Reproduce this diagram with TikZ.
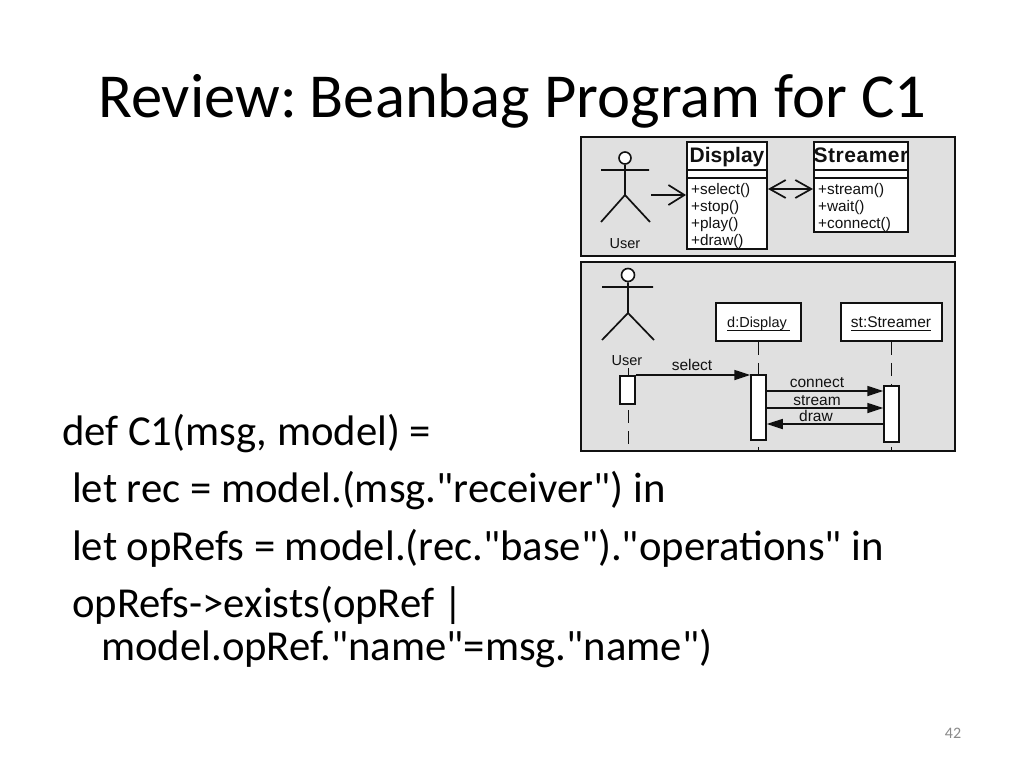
\documentclass[tikz,border=0pt]{standalone}
\usepackage{fontspec}
\newfontfamily\slidefont{Carlito}
\newfontfamily\umlfont{Liberation Sans}
\newfontfamily\umlspaced[LetterSpace=2.5]{Liberation Sans}
\usetikzlibrary{arrows.meta}
\definecolor{panelgray}{HTML}{E0E0E0}
\definecolor{numgray}{HTML}{8A8A8A}
\definecolor{inkblack}{HTML}{111111}
\tikzset{
  slidetext/.style={anchor=base west,inner sep=0pt,font=\slidefont\fontsize{42.7}{42.7}\selectfont,text=black},
  panel/.style={draw=inkblack,line width=1.8pt,fill=panelgray,minimum width=374pt,inner sep=0pt},
  classbox/.style={draw=inkblack,line width=1.7pt,fill=white,inner sep=0pt},
  member/.style={anchor=base west,inner sep=0pt,font=\umlfont\fontsize{15.3}{15.3}\selectfont,text=inkblack},
  uml/.style={anchor=base,inner sep=0pt,font=\umlfont\fontsize{15.5}{15.5}\selectfont,text=inkblack},
  umlsmall/.style={anchor=base,inner sep=0pt,font=\umlfont\fontsize{14.5}{14.5}\selectfont,text=inkblack},
  classname/.style={anchor=base,inner sep=0pt,text=inkblack},
  umlline/.style={draw=inkblack,line width=1.7pt},
  lifeline/.style={draw=inkblack,line width=1pt,dash pattern=on 13pt off 8pt},
  activation/.style={draw=inkblack,line width=1.5pt,fill=white,minimum width=15pt,inner sep=0pt},
  openhead/.style={umlline,-{Straight Barb[length=16pt,width=20pt,line width=1.7pt]}},
  openboth/.style={umlline,{Straight Barb[length=16pt,width=18pt,line width=1.7pt]}-{Straight Barb[length=16pt,width=18pt,line width=1.7pt]}},
  filledhead/.style={umlline,-{Triangle[length=16pt,width=10pt]}},
  objbox/.style={draw=inkblack,line width=1.5pt,fill=white,minimum height=38pt,inner sep=0pt},
}
\begin{document}
\begin{tikzpicture}[x=1pt,y=-1pt]
\useasboundingbox (0,0) rectangle (1024,768);
\fill[white] (0,0) rectangle (1024,768);

% slide text
\node[anchor=base west,inner sep=0pt,font=\slidefont\fontsize{62.6}{62.6}\selectfont] (title) at (98,117) {Review:\kern-6pt{} Beanbag Program for C1};
\node[slidetext] (l1) at (62,445) {def C1(msg, model) =};
\node[slidetext] (l2) at (72,502) {let rec = model.(msg."receiver") in};
\node[slidetext] (l3) at (72,560) {let opRefs = model.(rec."base")."operations" in};
\node[slidetext] (l4) at (72,617) {opRefs->exists(opRef |};
\node[slidetext] (l5) at (101,660) {model.opRef."name"=msg."name")};
\node[anchor=center,inner sep=0pt,text=numgray,font=\slidefont\fontsize{16}{16}\selectfont] (num) at (953,733) {42};

% class diagram panel
\node[panel,minimum height=119pt] (p1) at (768,196.5) {};
\node[classbox,minimum width=80pt,minimum height=107pt] (display) at (727,195.5) {};
\node[classbox,minimum width=94pt,minimum height=90pt] (streamer) at (861,187) {};
\draw[umlline] (687,170) -- (767,170) (687,178) -- (767,178);
\draw[umlline] (814,170) -- (908,170) (814,178) -- (908,178);
\node[classname,font=\umlfont\bfseries\fontsize{21}{21}\selectfont] (dname) at (727,162) {Display};
\node[classname,font=\umlspaced\bfseries\fontsize{21}{21}\selectfont] (sname) at (861,162) {Streamer};
\node[member] (m1) at (691,194) {+select()};
\node[member] (m2) at (691,211) {+stop()};
\node[member] (m3) at (691,228) {+play()};
\node[member] (m4) at (691,245) {+draw()};
\node[member] (s1) at (818,194) {+stream()};
\node[member] (s2) at (818,211) {+wait()};
\node[member] (s3) at (818,228) {+connect()};
% actor 1
\node[circle,draw=inkblack,line width=1.6pt,fill=white,minimum size=12pt,inner sep=0pt] (h1) at (625,158) {};
\coordinate (hip1) at (625,195);
\coordinate (arml1) at (601,170);
\coordinate (armr1) at (649,170);
\coordinate (legl1) at (601,222);
\coordinate (legr1) at (650,222);
\draw[umlline] (h1.south) -- (hip1) (arml1) -- (armr1) (legl1) -- (hip1) -- (legr1);
\node[umlsmall] (u1) at (625,248) {User};
\coordinate (astart) at (651,195);
\coordinate (aend) at (686,195);
\draw[openhead] (astart) -- (aend);
\coordinate (bstart) at (768,189);
\coordinate (bend) at (813,189);
\draw[openboth] (bstart) -- (bend);

% sequence diagram panel
\node[panel,minimum height=189pt] (p2) at (768,356.5) {};
\node[circle,draw=inkblack,line width=1.6pt,fill=white,minimum size=13pt,inner sep=0pt] (h2) at (628,275) {};
\coordinate (hip2) at (628,313);
\coordinate (arml2) at (602,287);
\coordinate (armr2) at (653,287);
\coordinate (legl2) at (602,340);
\coordinate (legr2) at (654,340);
\draw[umlline] (h2.south) -- (hip2) (arml2) -- (armr2) (legl2) -- (hip2) -- (legr2);
\node[umlsmall] (u2) at (627,365) {User};
\node[objbox,minimum width=85pt] (od) at (758.5,322) {};
\node[objbox,minimum width=101pt] (os) at (891.5,322) {};
\node[umlsmall] (odt) at (757,327) {d:Display};
\node[uml] (ost) at (891,327) {st:Streamer};
\draw[inkblack,line width=0.8pt] (727,330) -- (790,330) (851,330) -- (931,330);
\coordinate (ue) at (628,445);
\coordinate (de) at (758.5,451);
\coordinate (se) at (891.5,451);
\coordinate (ut) at (628,368);
\draw[lifeline] (ut) -- (ue);
\draw[lifeline] (od.south) -- (de);
\draw[lifeline] (os.south) -- (se);
\node[activation,minimum height=28pt] (au) at (627.5,390) {};
\node[activation,minimum height=65pt] (ad) at (758.5,407.5) {};
\node[activation,minimum height=56pt] (as) at (891.5,414) {};
\draw[filledhead] (au.east |- 0,375) -- (ad.west |- 0,375);
\draw[filledhead] (ad.east |- 0,391) -- (as.west |- 0,391);
\draw[filledhead] (ad.east |- 0,408) -- (as.west |- 0,408);
\draw[filledhead] (as.west |- 0,424) -- (ad.east |- 0,424);
\node[uml] (ls) at (692,370.5) {select};
\node[uml] (lc) at (817,387) {connect};
\node[uml] (lst) at (817,405.5) {stream};
\node[uml] (ldr) at (816,421.5) {draw};
\end{tikzpicture}
\end{document}
